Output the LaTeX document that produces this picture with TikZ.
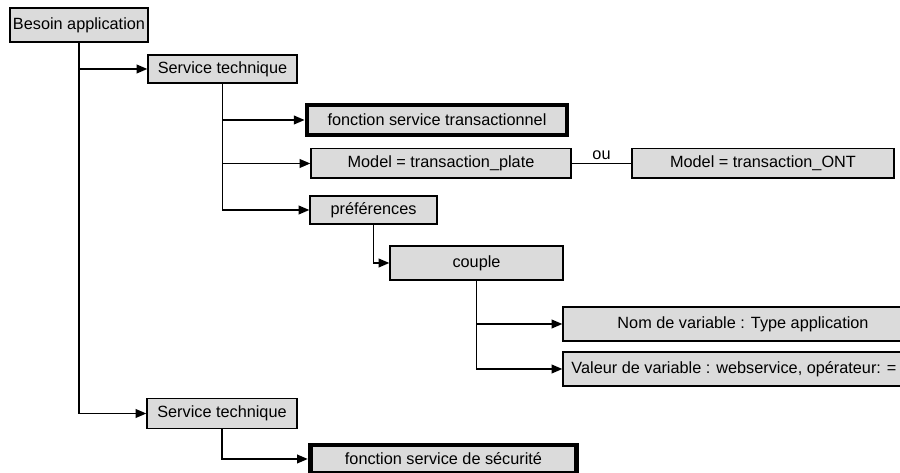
\documentclass[tikz,border=0pt]{standalone}
\usepackage{fontspec}
\setmainfont{Liberation Sans}
\usetikzlibrary{arrows.meta}
\definecolor{boxgray}{gray}{0.86}

\begin{document}
\begin{tikzpicture}[
  x=0.75pt, y=-0.75pt,
  font=\fontsize{12.2}{14}\selectfont,
  box/.style={draw=black, line width=1pt, fill=boxgray, inner sep=0pt, minimum height=21pt},
  heavybox/.style={box, line width=3.6pt},
  arr/.style={-{Triangle[length=8pt, width=6.5pt]}, line width=1.2pt}
]
\useasboundingbox (0,0) rectangle (900,473);
\begin{scope}
\clip (0,0) rectangle (900,473);
\node[box, minimum width=103.5pt, minimum height=25.5pt] (besoin) at (79,25) {Besoin application};
\node[box, minimum width=111.75pt] (tech1) at (222.5,69) {Service technique};
\node[heavybox, minimum width=195pt, minimum height=22.5pt] (transac) at (437,120) {fonction service transactionnel};
\node[box, minimum width=195pt, minimum height=22pt] (plate) at (441,163.5) {Model = transaction\_plate};
\node[box, minimum width=196.5pt, minimum height=22pt] (ont) at (763,163.5) {Model = transaction\_ONT};
\node[box, minimum width=95.25pt] (pref) at (373.5,210) {préférences};
\node[box, minimum width=129.75pt, minimum height=25.5pt] (couple) at (476.5,263) {couple};
\node[box, minimum width=270pt, minimum height=25.5pt] (nomvar) at (743,324) {Nom de variable : Type application};
\node[box, minimum width=256.5pt, minimum height=25.5pt] (valvar) at (734,369) {Valeur de variable : webservice, opérateur: =};
\node[box, minimum width=112.5pt, minimum height=22.5pt] (tech2) at (222,413.5) {Service technique};
\node[heavybox, minimum width=200pt] (secu) at (443.5,459) {fonction service de sécurité};

\draw[arr] (besoin.south) |- (tech1.west);
\draw[arr] (besoin.south) |- (tech2.west);
\draw[arr] (tech1.south) |- (transac.west);
\draw[arr] (tech1.south) |- (plate.west);
\draw[arr] (tech1.south) |- (pref.west);
\draw[line width=0.8pt] (plate.east) -- node[above=-1pt]{ou} (ont.west);
\draw[arr] (pref.south) |- (couple.west);
\draw[arr] (couple.south) |- (nomvar.west);
\draw[arr] (couple.south) |- (valvar.west);
\draw[arr] (tech2.south) |- (secu.west);
\end{scope}
\end{tikzpicture}
\end{document}
